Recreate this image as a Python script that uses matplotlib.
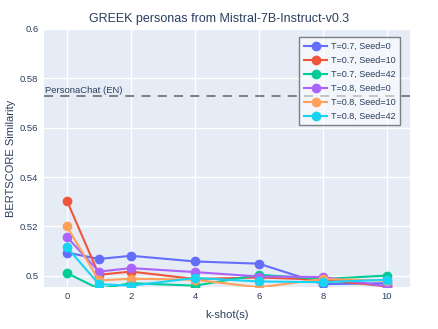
import matplotlib.pyplot as plt

plt.rcParams["font.family"] = ["Liberation Sans", "DejaVu Sans"]

k_shots = [0, 1, 2, 4, 6, 8, 10]

series_labels = [
    "T=0.7, Seed=0",
    "T=0.7, Seed=10",
    "T=0.7, Seed=42",
    "T=0.8, Seed=0",
    "T=0.8, Seed=10",
    "T=0.8, Seed=42",
]

t07_seed0 = [0.5094, 0.5068, 0.5081, 0.5058, 0.5049, 0.4966, 0.4970]
t07_seed10 = [0.5304, 0.5004, 0.5017, 0.4987, 0.4993, 0.4984, 0.4957]
t07_seed42 = [0.5011, 0.4947, 0.4970, 0.4960, 0.5004, 0.4987, 0.5001]
t08_seed0 = [0.5157, 0.5017, 0.5031, 0.5015, 0.4997, 0.4995, 0.4957]
t08_seed10 = [0.5200, 0.4981, 0.4988, 0.4984, 0.4953, 0.4987, 0.4980]
t08_seed42 = [0.5115, 0.4966, 0.4960, 0.4991, 0.4977, 0.4974, 0.4984]

baseline = 0.5729
baseline_label = "PersonaChat (EN)"

colors = ["#636EFA", "#EF553B", "#00CC96", "#AB63FA", "#FFA15A", "#19D3F3"]
text_color = "#2a3f5f"

fig = plt.figure(figsize=(4.39, 3.29), dpi=100)
ax = fig.add_axes([0.100, 0.128, 0.834, 0.784])
ax.set_facecolor("#E5ECF6")

all_series = [t07_seed0, t07_seed10, t07_seed42, t08_seed0, t08_seed10, t08_seed42]
for values, label, color in zip(all_series, series_labels, colors):
    ax.plot(k_shots, values, color=color, linewidth=1.5, marker="o",
            markersize=6, label=label, zorder=3)

ax.axhline(baseline, color="#777777", linestyle=(0, (5, 4)), linewidth=1.3, zorder=2)
ax.text(-0.68, baseline + 0.0005, baseline_label, fontsize=6.8, color=text_color,
        va="bottom", ha="left")

ax.set_xlim(-0.72, 10.72)
ax.set_ylim(0.4955, 0.6)
ax.set_xticks([0, 2, 4, 6, 8, 10])
ax.set_yticks([0.5, 0.52, 0.54, 0.56, 0.58, 0.6])
ax.set_yticklabels(["0.5", "0.52", "0.54", "0.56", "0.58", "0.6"])
ax.grid(True, color="white", linewidth=1)
ax.set_axisbelow(True)
for spine in ax.spines.values():
    spine.set_visible(False)
ax.tick_params(length=0, labelsize=6.8, colors=text_color, pad=4)

ax.set_xlabel("k-shot(s)", fontsize=8, color=text_color)
ax.xaxis.set_label_coords(0.5, -0.09)
ax.set_ylabel("BERTSCORE Similarity", fontsize=8, color=text_color)
ax.yaxis.set_label_coords(-0.075, 0.5)
fig.suptitle("GREEK personas from Mistral-7B-Instruct-v0.3", fontsize=9,
             color=text_color, y=0.96)

leg = ax.legend(loc="upper right", bbox_to_anchor=(0.985, 0.985), fontsize=6.5,
                frameon=True, fancybox=False, borderpad=0.5, handlelength=2.6,
                handletextpad=0.4, labelspacing=0.55, labelcolor=text_color)
leg.get_frame().set_edgecolor("#222222")
leg.get_frame().set_linewidth(1)
leg.get_frame().set_facecolor("white")
leg.get_frame().set_alpha(0.55)

fig.savefig("out.png", dpi=100)
